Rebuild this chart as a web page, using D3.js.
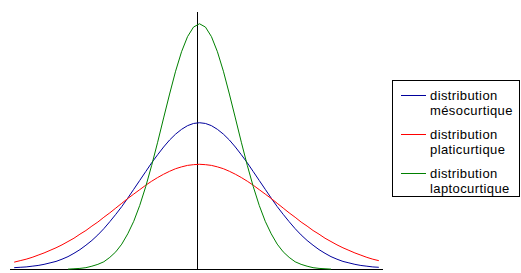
<!DOCTYPE html>
<html>
<head>
<meta charset="utf-8">
<script src="https://cdn.jsdelivr.net/npm/d3@7.9.0/dist/d3.min.js"></script>
<style>
  body { margin: 0; background: #fff; }
  svg { display: block; }
  .legend text { font-family: "Liberation Sans", Arial, sans-serif; font-size: 13px; letter-spacing: 0.4px; fill: #000; }
</style>
</head>
<body>
<svg id="chart" width="521" height="273"></svg>
<script>
// sample positions (in standard deviations of the mesokurtic curve)
const xWide = [-3.1, -3.0, -2.9, -2.8, -2.7, -2.6, -2.5, -2.4, -2.3, -2.2, -2.1, -2.0,
  -1.9, -1.8, -1.7, -1.6, -1.5, -1.4, -1.3, -1.2, -1.1, -1.0, -0.9, -0.8, -0.7, -0.6,
  -0.5, -0.4, -0.3, -0.2, -0.1, 0, 0.1, 0.2, 0.3, 0.4, 0.5, 0.6, 0.7, 0.8, 0.9, 1.0,
  1.1, 1.2, 1.3, 1.4, 1.5, 1.6, 1.7, 1.8, 1.9, 2.0, 2.1, 2.2, 2.3, 2.4, 2.5, 2.6,
  2.7, 2.8, 2.9, 3.0];
const xNarrow = [-2.2, -2.1, -2.0, -1.9, -1.8, -1.7, -1.6, -1.5, -1.4, -1.3, -1.2, -1.1,
  -1.0, -0.9, -0.8, -0.7, -0.6, -0.5, -0.4, -0.3, -0.2, -0.1, 0, 0.1, 0.2, 0.3, 0.4,
  0.5, 0.6, 0.7, 0.8, 0.9, 1.0, 1.1, 1.2, 1.3, 1.4, 1.5, 1.6, 1.7, 1.8, 1.9, 2.0,
  2.1, 2.2];

// mésocurtique
const mesoValues = [0.005, 0.006, 0.007, 0.009, 0.011, 0.014, 0.018, 0.022, 0.028, 0.035,
  0.044, 0.054, 0.066, 0.079, 0.094, 0.111, 0.130, 0.150, 0.171, 0.194, 0.218, 0.242,
  0.266, 0.290, 0.312, 0.333, 0.352, 0.368, 0.381, 0.391, 0.397, 0.399, 0.397, 0.391,
  0.381, 0.368, 0.352, 0.333, 0.312, 0.290, 0.266, 0.242, 0.218, 0.194, 0.171, 0.150,
  0.130, 0.111, 0.094, 0.079, 0.066, 0.054, 0.044, 0.035, 0.028, 0.022, 0.018, 0.014,
  0.011, 0.009, 0.007, 0.006];

// platicurtique
const platiValues = [0.020, 0.024, 0.028, 0.033, 0.039, 0.045, 0.052, 0.059, 0.067, 0.076,
  0.085, 0.096, 0.106, 0.118, 0.129, 0.142, 0.154, 0.167, 0.180, 0.193, 0.205, 0.217,
  0.229, 0.240, 0.250, 0.259, 0.267, 0.274, 0.279, 0.283, 0.285, 0.286, 0.285, 0.283,
  0.279, 0.274, 0.267, 0.259, 0.250, 0.240, 0.229, 0.217, 0.205, 0.193, 0.180, 0.167,
  0.154, 0.142, 0.129, 0.118, 0.106, 0.096, 0.085, 0.076, 0.067, 0.059, 0.052, 0.045,
  0.039, 0.033, 0.028, 0.024];

// laptocurtique
const laptoValues = [0.001, 0.002, 0.003, 0.005, 0.009, 0.014, 0.021, 0.033, 0.048, 0.069,
  0.097, 0.131, 0.174, 0.225, 0.283, 0.346, 0.412, 0.477, 0.539, 0.592, 0.633, 0.659,
  0.668, 0.659, 0.633, 0.592, 0.539, 0.477, 0.412, 0.346, 0.283, 0.225, 0.174, 0.131,
  0.097, 0.069, 0.048, 0.033, 0.021, 0.014, 0.009, 0.005, 0.003, 0.002, 0.001];

const seriesNames = ['distribution|mésocurtique', 'distribution|platicurtique', 'distribution|laptocurtique'];
const seriesColors = ['#00009c', '#ff0000', '#008000'];
const axisPosition = -0.05;

const series = [
  { name: seriesNames[0], color: seriesColors[0], xs: xWide, ys: mesoValues },
  { name: seriesNames[1], color: seriesColors[1], xs: xWide, ys: platiValues },
  { name: seriesNames[2], color: seriesColors[2], xs: xNarrow, ys: laptoValues },
];

const svg = d3.select('#chart');

const x = d3.scaleLinear().domain([-3.17, 3.07]).range([10, 383]);
const y = d3.scaleLinear().domain([0, 0.7]).range([269.5, 12]);

// axes: plain black lines
svg.append('line')
  .attr('x1', x.range()[0]).attr('x2', x.range()[1])
  .attr('y1', y(0)).attr('y2', y(0))
  .attr('stroke', '#000').attr('shape-rendering', 'crispEdges');

svg.append('line')
  .attr('x1', Math.round(x(axisPosition)) + 0.5).attr('x2', Math.round(x(axisPosition)) + 0.5)
  .attr('y1', y(0.7)).attr('y2', y(0))
  .attr('stroke', '#000').attr('shape-rendering', 'crispEdges');

const line = d3.line()
  .x((d) => x(d[0]))
  .y((d) => y(d[1]));

svg.append('g').selectAll('path')
  .data(series)
  .join('path')
  .attr('d', (s) => line(s.xs.map((v, i) => [v, s.ys[i]])))
  .attr('fill', 'none')
  .attr('stroke', (s) => s.color)
  .attr('stroke-width', 1);

// legend
const legend = svg.append('g').attr('class', 'legend');
legend.append('rect')
  .attr('x', 392.5).attr('y', 80.5)
  .attr('width', 127).attr('height', 116)
  .attr('fill', '#fff').attr('stroke', '#000')
  .attr('shape-rendering', 'crispEdges');

const item = legend.selectAll('g.item')
  .data(series)
  .join('g')
  .attr('class', 'item')
  .attr('transform', (d, i) => `translate(0,${i * 39})`);

item.append('line')
  .attr('x1', 401).attr('x2', 426)
  .attr('y1', 95.5).attr('y2', 95.5)
  .attr('stroke', (d) => d.color)
  .attr('shape-rendering', 'crispEdges');

item.each(function (d) {
  const parts = d.name.split('|');
  const g = d3.select(this);
  parts.forEach((p, j) => {
    g.append('text')
      .attr('x', 430)
      .attr('y', 100 + j * 15)
      .text(p);
  });
});
</script>
</body>
</html>
